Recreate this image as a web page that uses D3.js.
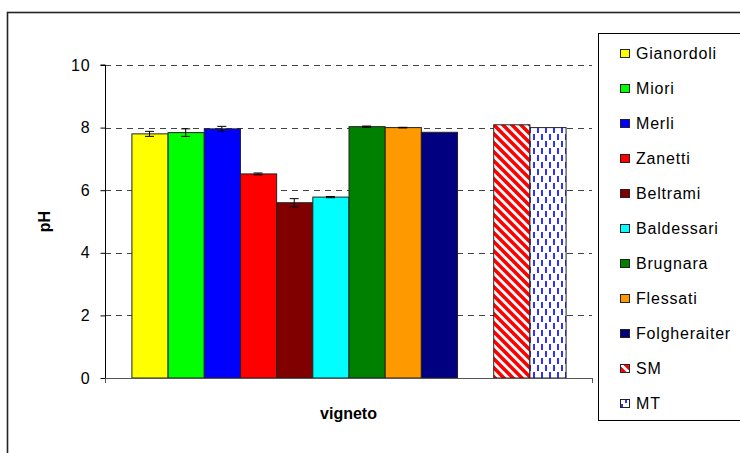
<!DOCTYPE html>
<html><head><meta charset="utf-8">
<script src="https://cdn.jsdelivr.net/npm/d3@7"></script>
<style>
html,body{margin:0;padding:0;background:#fff;}
text{font-family:"Liberation Sans",Arial,sans-serif;}
</style></head>
<body>
<svg id="chart" width="740" height="453"></svg>
<script>
const names = ["Gianordoli","Miori","Merli","Zanetti","Beltrami","Baldessari","Brugnara","Flessati","Folgheraiter","SM","MT"];
const values = [7.80,7.84,7.96,6.52,5.60,5.78,8.03,8.00,7.85,8.09,8.00];
const errors = [0.08,0.12,0.08,0.03,0.13,0.02,0.02,0.01,0.0,0,0];
const colors = ["#FFFF00","#00FF00","#0000FF","#FF0000","#800000","#00FFFF","#008000","#FF9900","#000080","url(#patSM)","url(#patMT)"];
const yTicks = [0,2,4,6,8,10];
const yLabel = "pH";
const xLabel = "vigneto";

const svg = d3.select("#chart");
const defs = svg.append("defs");
// SM: red diagonal stripes
const pSM = defs.append("pattern").attr("id","patSM").attr("patternUnits","userSpaceOnUse")
  .attr("width",9).attr("height",9);
pSM.append("rect").attr("width",9).attr("height",9).attr("fill","#fff");
pSM.append("path").attr("d","M-2,-2 L11,11 M-2,7 L2,11 M7,-2 L11,2")
  .attr("stroke","#FF0000").attr("stroke-width",3.6);
// MT: blue dashed vertical lines
const pMT = defs.append("pattern").attr("id","patMT").attr("patternUnits","userSpaceOnUse")
  .attr("width",8).attr("height",14);
pMT.append("rect").attr("width",8).attr("height",14).attr("fill","#fff");
pMT.append("path").attr("d","M2,1 L2,7 M6,8 L6,14 M6,-6 L6,0")
  .attr("stroke","#0000FF").attr("stroke-width",1.6);

// outer frame
svg.append("rect").attr("x",7.5).attr("y",12.5).attr("width",760).attr("height",460)
  .attr("fill","none").attr("stroke","#222").attr("stroke-width",1.6);

const plot = {x0:105, x1:592, y0:378, y1:65};
const slots = names.slice(0,9).concat(["__gap"], names.slice(9));
const x = d3.scaleBand().domain(slots).range([plot.x0, plot.x1]).paddingInner(0).paddingOuter(0.73);
const y = d3.scaleLinear().domain([0,10]).range([plot.y0, plot.y1]);

// gridlines
svg.append("g").selectAll("line").data(yTicks.filter(d=>d>0)).join("line")
  .attr("x1",plot.x0).attr("x2",plot.x1)
  .attr("y1",d=>Math.round(y(d))+0.5).attr("y2",d=>Math.round(y(d))+0.5)
  .attr("stroke","#444").attr("stroke-width",1).attr("stroke-dasharray","6,5");

// bars
const data = names.map((n,i)=>({name:n, v:values[i], e:errors[i], c:colors[i]}));
svg.append("g").selectAll("rect").data(data).join("rect")
  .attr("x",d=>x(d.name)+0.5).attr("width",x.bandwidth())
  .attr("y",d=>y(d.v)).attr("height",d=>y(0)-y(d.v))
  .attr("fill",d=>d.c).attr("stroke","#222").attr("stroke-width",1);

// error bars
const eb = svg.append("g").selectAll("g").data(data.filter(d=>d.e>0)).join("g");
eb.append("line").attr("x1",d=>x(d.name)+x.bandwidth()/2).attr("x2",d=>x(d.name)+x.bandwidth()/2)
  .attr("y1",d=>y(d.v+d.e)).attr("y2",d=>y(d.v-d.e)).attr("stroke","#000");
eb.selectAll(".cap").data(d=>[{d,v:d.v+d.e},{d,v:d.v-d.e}]).join("line")
  .attr("x1",o=>x(o.d.name)+x.bandwidth()/2-4.5).attr("x2",o=>x(o.d.name)+x.bandwidth()/2+4.5)
  .attr("y1",o=>y(o.v)).attr("y2",o=>y(o.v)).attr("stroke","#000");

// y axis
const ya = svg.append("g").attr("transform",`translate(${plot.x0+0.5},0)`)
  .call(d3.axisLeft(y).tickValues(yTicks).tickSize(5).tickPadding(10).tickFormat(d3.format("d")));
ya.select(".domain").attr("stroke","#000").attr("d",`M-5,${plot.y1}H0V${plot.y0+5}`);
ya.selectAll(".tick line").attr("stroke","#000");
ya.selectAll(".tick text").attr("font-family","Liberation Sans, Arial, sans-serif")
  .attr("font-size",16).attr("letter-spacing","0.8px").attr("fill","#000");

// x axis
const xa = svg.append("g");
xa.append("line").attr("x1",plot.x0).attr("x2",plot.x1).attr("y1",plot.y0+0.5).attr("y2",plot.y0+0.5)
  .attr("stroke","#555");
xa.selectAll(".xt").data([plot.x0, plot.x1]).join("line")
  .attr("x1",d=>d+0.5).attr("x2",d=>d+0.5).attr("y1",plot.y0).attr("y2",plot.y0+5).attr("stroke","#555");

// axis titles
svg.append("text").attr("transform",`translate(50,${(plot.y0+plot.y1)/2}) rotate(-90)`)
  .attr("text-anchor","middle").attr("font-weight","bold").attr("font-size",16).text(yLabel);
svg.append("text").attr("x",(plot.x0+plot.x1)/2).attr("y",419)
  .attr("text-anchor","middle").attr("font-weight","bold").attr("font-size",16).text(xLabel);

// legend
svg.append("rect").attr("x",598.5).attr("y",33.5).attr("width",160).attr("height",387)
  .attr("fill","#fff").attr("stroke","#000").attr("stroke-width",1);
const lg = svg.append("g").selectAll("g").data(data).join("g")
  .attr("transform",(d,i)=>`translate(620,${53+i*35})`);
lg.append("rect").attr("x",0.5).attr("y",-3.5).attr("width",9).attr("height",8)
  .attr("fill",d=>d.c).attr("stroke","#222");
lg.append("text").attr("x",16).attr("y",6).attr("font-size",16).attr("letter-spacing","0.8px")
  .attr("fill","#000").text(d=>d.name);
</script>
</body></html>
